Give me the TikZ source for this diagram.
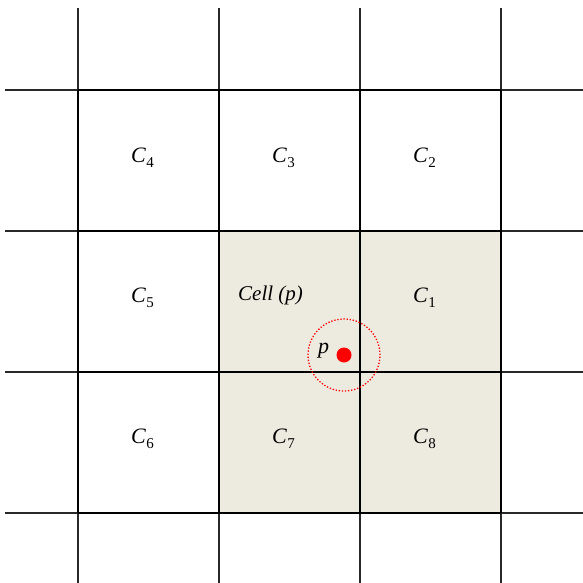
\documentclass[tikz,border=0pt]{standalone}
\usepackage{fontspec}
\setmainfont{Liberation Serif}
\usetikzlibrary{positioning}
\definecolor{CellShade}{RGB}{237, 234, 224}
\definecolor{PointRed}{RGB}{255, 0, 0}
\definecolor{GridGrey}{RGB}{40, 40, 40}
\newcommand{\cellname}[1]{C\kern0.5pt\raisebox{-5pt}{\upshape\fontsize{15}{17}\selectfont #1}}

\begin{document}
\begin{tikzpicture}[x=1pt,y=-1pt,
  cell label/.style={font=\fontsize{22}{26}\selectfont\itshape, inner sep=0pt, anchor=base west},
  grid line/.style={GridGrey, line width=1.1pt},
  block line/.style={black, line width=1.8pt}]
  \path[use as bounding box] (0,0) rectangle (583,583);
  % shaded neighbourhood of p
  \fill[CellShade] (219,231) rectangle (501,513);
  \foreach \x in {78,219,360,501}{
    \draw[grid line] (\x,8) -- (\x,583);
  }
  \foreach \y in {90,231,372,513}{
    \draw[grid line] (5,\y) -- (583,\y);
  }
  % the 3x3 block
  \foreach \x in {78,219,360,501}{
    \draw[block line] (\x,90) -- (\x,513);
  }
  \foreach \y in {90,231,372,513}{
    \draw[block line] (78,\y) -- (501,\y);
  }
  \node[cell label] (c4) at (131,162) {\cellname{4}};
  \node[cell label] (c3) at (272,162) {\cellname{3}};
  \node[cell label] (c2) at (413,162) {\cellname{2}};
  \node[cell label] (c5) at (131,302) {\cellname{5}};
  \node[cell label, font=\fontsize{21}{25}\selectfont\itshape] (cellp) at (238,300) {Cell (p)};
  \node[cell label] (c1) at (413,302) {\cellname{1}};
  \node[cell label] (c6) at (131,443) {\cellname{6}};
  \node[cell label] (c7) at (272,443) {\cellname{7}};
  \node[cell label] (c8) at (413,443) {\cellname{8}};
  % the point and its range
  \node[circle, fill=PointRed, inner sep=0pt, minimum size=15pt] (pt) at (344,355) {};
  \node[circle, draw=PointRed, line width=1.3pt, dash pattern=on 1.3pt off 1.8pt,
        inner sep=0pt, minimum size=72pt] (range) at (pt) {};
  \node[cell label] (plabel) at (318,353) {p};
\end{tikzpicture}
\end{document}
